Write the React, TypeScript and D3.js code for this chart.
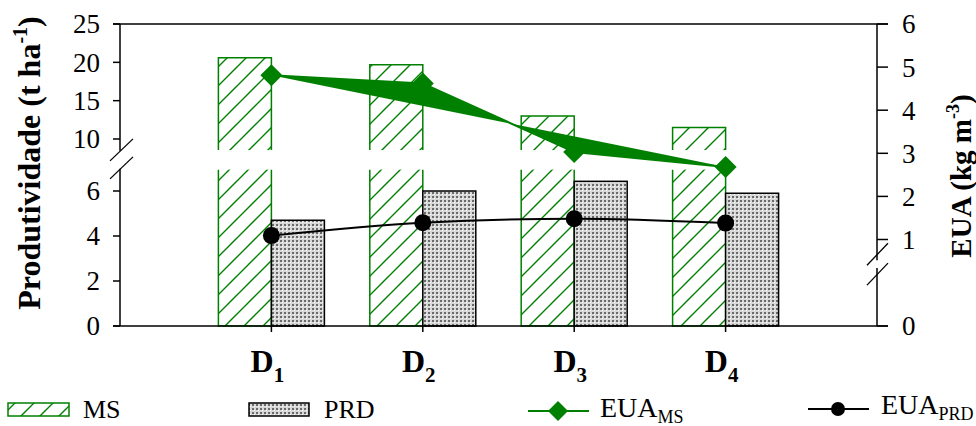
import React from "react";
import * as d3 from "d3";

// data
const categories = ["1", "2", "3", "4"];
const msValues = [20.6, 19.7, 13.0, 11.5];
const prdValues = [4.7, 6.0, 6.43, 5.9];
const euaMs = [4.81, 4.62, 3.03, 2.68];
const euaPrd = [1.09, 1.39, 1.48, 1.38];
const leftTicksLow = [0, 2, 4, 6];
const leftTicksHigh = [10, 15, 20, 25];
const rightTicks = [0, 1, 2, 3, 4, 5, 6];

const W = 976;
const H = 426;
const left = 120;
const right = 877;
const bottom = 326;
const top = 24;
const barW = 53;
const GREEN = "#008000";
const FONT = "'Liberation Serif', 'Times New Roman', serif";

// broken left axis: two linear pieces
const yLow = d3.scaleLinear().domain([0, 6]).range([bottom, 191]);
const yHigh = d3.scaleLinear().domain([10, 25]).range([139, top]);
const lowTopVal = 6.95;
const highBottomVal = 8.55;
// right axis with break between 0 and 1
const yR = d3.scaleLinear().domain([0, 1, 6]).range([bottom, 239.5, top]);

const x = d3.scalePoint<string>().domain(categories).range([left, right]).padding(1);

const App = () => {
  const lowTop = yLow(lowTopVal);
  const highBottom = yHigh(highBottomVal);

  const msLine = d3
    .line<number>()
    .x((_, i) => x(categories[i])!)
    .y((d) => yR(d));
  const prdLine = d3
    .line<number>()
    .x((_, i) => x(categories[i])!)
    .y((d) => yR(d))
    .curve(d3.curveMonotoneX);

  const diamond = (cx: number, cy: number, r: number) =>
    `M${cx},${cy - r}L${cx + r},${cy}L${cx},${cy + r}L${cx - r},${cy}Z`;

  const breakMid = (lowTop + highBottom) / 2;
  const rBreakTop = yR(0.83);
  const rBreakBot = yR(0.6);

  return (
    <svg
      width={W}
      height={H}
      style={{ position: "absolute", left: 0, top: 0, background: "#fff" }}
      fontFamily={FONT}
    >
      <defs>
        <pattern id="hatch" patternUnits="userSpaceOnUse" width={19} height={19}>
          <path d="M-2,21 L21,-2 M-2,2 L2,-2 M17,21 L21,17" stroke={GREEN} strokeWidth={1.4} />
        </pattern>
        <pattern id="dots" patternUnits="userSpaceOnUse" width={4} height={4}>
          <rect width={4} height={4} fill="#d8d8d8" />
          <rect x={0} y={0} width={2} height={2} fill="#6a6a6a" />
          <rect x={2} y={2} width={1} height={1} fill="#ffffff" />
        </pattern>
      </defs>

      {/* MS bars, split by the break */}
      {msValues.map((v, i) => {
        const cx = x(categories[i])!;
        return (
          <g key={"ms" + i}>
            <rect x={cx - barW} y={lowTop} width={barW} height={bottom - lowTop} fill="url(#hatch)" />
            <path
              d={`M${cx - barW},${lowTop}V${bottom}H${cx}V${lowTop}`}
              fill="none"
              stroke={GREEN}
              strokeWidth={1.5}
            />
            <rect x={cx - barW} y={yHigh(v)} width={barW} height={highBottom - yHigh(v)} fill="url(#hatch)" />
            <path
              d={`M${cx - barW},${highBottom}V${yHigh(v)}H${cx}V${highBottom}`}
              fill="none"
              stroke={GREEN}
              strokeWidth={1.5}
            />
          </g>
        );
      })}

      {/* PRD bars */}
      {prdValues.map((v, i) => {
        const cx = x(categories[i])!;
        return (
          <rect
            key={"prd" + i}
            x={cx}
            y={yLow(v)}
            width={barW}
            height={bottom - yLow(v)}
            fill="url(#dots)"
            stroke="#000"
            strokeWidth={1.5}
          />
        );
      })}

      {/* axes frame */}
      <line x1={left - 7} x2={right + 11} y1={top} y2={top} stroke="#000" strokeWidth={1.5} />
      <line x1={left - 7} x2={right + 11} y1={bottom} y2={bottom} stroke="#000" strokeWidth={1.5} />
      <line x1={left} x2={left} y1={top} y2={breakMid - 9} stroke="#000" strokeWidth={1.5} />
      <line x1={left} x2={left} y1={breakMid + 9} y2={bottom} stroke="#000" strokeWidth={1.5} />
      <line x1={right} x2={right} y1={top} y2={rBreakTop + 6} stroke="#000" strokeWidth={1.5} />
      <line x1={right} x2={right} y1={rBreakBot - 6} y2={bottom} stroke="#000" strokeWidth={1.5} />

      {/* break marks */}
      {[-9, 9].map((o) => (
        <line
          key={"lb" + o}
          x1={left - 10}
          y1={breakMid + o + 10}
          x2={left + 13}
          y2={breakMid + o - 12}
          stroke="#000"
          strokeWidth={1.3}
        />
      ))}
      {[rBreakTop, rBreakBot].map((yy, k) => (
        <line
          key={"rb" + k}
          x1={right - 10}
          y1={yy + 11}
          x2={right + 11}
          y2={yy - 11}
          stroke="#000"
          strokeWidth={1.3}
        />
      ))}

      {/* left ticks */}
      {leftTicksLow.map((t) => (
        <g key={"ll" + t}>
          <line x1={left - 7} x2={left} y1={yLow(t)} y2={yLow(t)} stroke="#000" strokeWidth={1.5} />
          <text x={100} y={yLow(t)} dy="0.35em" textAnchor="end" fontSize={27}>
            {t}
          </text>
        </g>
      ))}
      {leftTicksHigh.map((t) => (
        <g key={"lh" + t}>
          <line x1={left - 7} x2={left} y1={yHigh(t)} y2={yHigh(t)} stroke="#000" strokeWidth={1.5} />
          <text x={100} y={yHigh(t)} dy="0.35em" textAnchor="end" fontSize={27}>
            {t}
          </text>
        </g>
      ))}

      {/* right ticks */}
      {rightTicks.map((t) => (
        <g key={"r" + t}>
          <line x1={right} x2={right + 11} y1={yR(t)} y2={yR(t)} stroke="#000" strokeWidth={1.5} />
          <text x={902} y={yR(t)} dy="0.35em" textAnchor="start" fontSize={27}>
            {t}
          </text>
        </g>
      ))}

      {/* x ticks and labels */}
      {categories.map((c) => (
        <g key={"x" + c}>
          <line x1={x(c)!} x2={x(c)!} y1={bottom} y2={bottom + 6} stroke="#000" strokeWidth={1.5} />
          <text x={x(c)! - 4} y={372} textAnchor="middle" fontSize={32} fontWeight="bold">
            D
            <tspan fontSize={21} dy={10}>
              {c}
            </tspan>
          </text>
        </g>
      ))}

      {/* EUA_MS: filled line path */}
      <path d={msLine(euaMs)!} fill={GREEN} stroke={GREEN} strokeWidth={2} />
      {euaMs.map((v, i) => (
        <path key={"dm" + i} d={diamond(x(categories[i])!, yR(v), 11)} fill={GREEN} />
      ))}

      {/* EUA_PRD line */}
      <path d={prdLine(euaPrd)!} fill="none" stroke="#000" strokeWidth={2} />
      {euaPrd.map((v, i) => (
        <circle key={"cp" + i} cx={x(categories[i])!} cy={yR(v)} r={8.5} fill="#000" />
      ))}

      {/* axis titles */}
      <text
        transform="translate(40,163) rotate(-90)"
        textAnchor="middle"
        fontSize={32}
        fontWeight="bold"
      >
        Produtividade (t ha
        <tspan fontSize={20} dy={-13}>
          -1
        </tspan>
        <tspan dy={13}>)</tspan>
      </text>
      <text
        transform="translate(971,176) rotate(-90)"
        textAnchor="middle"
        fontSize={29}
        fontWeight="bold"
      >
        EUA (kg m
        <tspan fontSize={18} dy={-12}>
          -3
        </tspan>
        <tspan dy={12}>)</tspan>
      </text>

      {/* legend */}
      <rect x={8} y={403} width={61} height={13} fill="url(#hatch)" stroke={GREEN} strokeWidth={1.5} />
      <text x={83} y={418} fontSize={26}>
        MS
      </text>
      <rect x={249} y={403} width={60} height={13} fill="url(#dots)" stroke="#000" strokeWidth={1.5} />
      <text x={324} y={418} fontSize={26}>
        PRD
      </text>

      <line x1={528} x2={589} y1={411} y2={411} stroke={GREEN} strokeWidth={2} />
      <path d={diamond(558, 411, 10)} fill={GREEN} />
      <text x={600} y={417} fontSize={28}>
        EUA
        <tspan fontSize={18} dy={6}>
          MS
        </tspan>
      </text>

      <line x1={808} x2={869} y1={409} y2={409} stroke="#000" strokeWidth={2} />
      <circle cx={838} cy={409} r={7} fill="#000" />
      <text x={881} y={414} fontSize={28}>
        EUA
        <tspan fontSize={18} dy={6}>
          PRD
        </tspan>
      </text>
    </svg>
  );
};

export default App;
